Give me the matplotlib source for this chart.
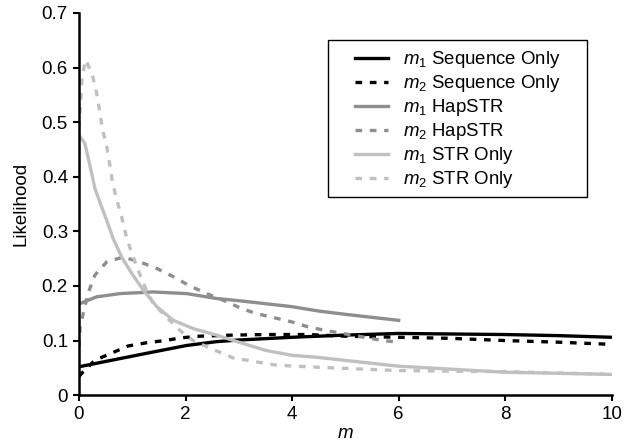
import matplotlib
matplotlib.use('Agg')
import matplotlib.pyplot as plt
from matplotlib.patches import Rectangle

plt.rcParams['font.family'] = ['Liberation Sans', 'DejaVu Sans']
plt.rcParams['mathtext.fontset'] = 'custom'
plt.rcParams['mathtext.rm'] = 'Liberation Sans'
plt.rcParams['mathtext.it'] = 'Liberation Sans:italic'

# values
m_seq1 = [0, 0.77, 1.39, 2.02, 2.58, 3.0, 4.0, 4.5, 5.0, 6.0, 7.0, 8.0, 9.0, 10.0]
seq1 = [0.052, 0.067, 0.079, 0.091, 0.098, 0.101, 0.106, 0.108, 0.110, 0.113, 0.112, 0.111, 0.109, 0.106]

m_seq2 = [0, 0.05, 0.3, 0.61, 0.92, 1.27, 1.61, 1.92, 2.27, 2.9, 3.5, 4.3, 5.0, 6.0, 7.0, 8.0, 9.0, 10.0]
seq2 = [0.034, 0.040, 0.064, 0.077, 0.090, 0.096, 0.100, 0.105, 0.108, 0.110, 0.111, 0.111, 0.108, 0.106, 0.104, 0.100, 0.097, 0.093]

m_hap1 = [0, 0.33, 0.77, 1.39, 2.02, 2.58, 3.0, 4.0, 4.5, 5.0, 6.0]
hap1 = [0.167, 0.180, 0.186, 0.189, 0.186, 0.177, 0.173, 0.162, 0.154, 0.148, 0.137]

m_hap2 = [0, 0.02, 0.17, 0.3, 0.52, 0.83, 1.14, 1.46, 1.77, 2.08, 2.4, 2.7, 3.0, 3.3, 3.7, 4.0, 4.3, 4.6, 5.3, 5.7, 6.0]
hap2 = [0.088, 0.125, 0.187, 0.220, 0.244, 0.253, 0.244, 0.232, 0.217, 0.200, 0.186, 0.174, 0.161, 0.150, 0.141, 0.134, 0.125, 0.119, 0.107, 0.100, 0.097]

m_str1 = [0, 0.11, 0.21, 0.3, 0.42, 0.52, 0.64, 0.8, 0.99, 1.21, 1.46, 1.77, 2.14, 2.58, 3.0, 3.5, 4.0, 4.5, 6.0, 8.0, 10.0]
str1 = [0.476, 0.461, 0.418, 0.378, 0.346, 0.320, 0.287, 0.253, 0.223, 0.192, 0.162, 0.137, 0.122, 0.110, 0.097, 0.082, 0.073, 0.069, 0.053, 0.042, 0.038]

m_str2 = [0, 0.02, 0.04, 0.06, 0.13, 0.26, 0.33, 0.39, 0.44, 0.52, 0.58, 0.63, 0.71, 0.8, 0.89, 0.99, 1.11, 1.24, 1.39, 1.64, 1.89, 2.14, 2.46, 2.9, 3.7, 4.5, 6.0, 8.0, 10.0]
str2 = [0.489, 0.522, 0.553, 0.586, 0.614, 0.583, 0.553, 0.519, 0.487, 0.455, 0.421, 0.389, 0.357, 0.327, 0.290, 0.260, 0.229, 0.198, 0.168, 0.143, 0.119, 0.100, 0.086, 0.068, 0.055, 0.051, 0.045, 0.043, 0.038]

dark = 'black'
mid = '#8e8e8e'
light = '#c0c0c0'
dash = (0, (2, 2.3))

fig = plt.figure(figsize=(6.32, 4.45), dpi=100)
ax = fig.add_axes([0.125, 0.112, 0.843, 0.859])

lw = 2.4
ax.plot(m_seq1, seq1, color=dark, lw=lw, label=r'$m_1$ Sequence Only')
ax.plot(m_seq2, seq2, color=dark, lw=lw, ls=dash, label=r'$m_2$ Sequence Only')
ax.plot(m_hap1, hap1, color=mid, lw=lw, label=r'$m_1$ HapSTR')
ax.plot(m_hap2, hap2, color=mid, lw=lw, ls=dash, label=r'$m_2$ HapSTR')
ax.plot(m_str1, str1, color=light, lw=lw, label=r'$m_1$ STR Only')
ax.plot(m_str2, str2, color=light, lw=lw, ls=dash, label=r'$m_2$ STR Only')

ax.set_xlim(0, 10)
ax.set_ylim(0, 0.7)
ax.set_xticks([0, 2, 4, 6, 8, 10])
ax.set_yticks([0, 0.1, 0.2, 0.3, 0.4, 0.5, 0.6, 0.7])
ax.set_yticklabels(['0', '0.1', '0.2', '0.3', '0.4', '0.5', '0.6', '0.7'])
ax.tick_params(labelsize=13.5, width=1.5, length=4, direction='out', pad=4)
for s in ['top', 'right']:
    ax.spines[s].set_visible(False)
for s in ['left', 'bottom']:
    ax.spines[s].set_linewidth(1.8)

ax.set_xlabel('m', fontsize=13.5, style='italic', labelpad=1)
ax.set_ylabel('Likelihood', fontsize=13.5, labelpad=9)

# legend box drawn by hand so padding can differ left/right
ax.add_patch(Rectangle((0.467, 0.518), 0.486, 0.411, transform=ax.transAxes,
                       fill=True, facecolor='white', edgecolor='black', lw=1.0, zorder=4))
leg = ax.legend(loc='upper left', bbox_to_anchor=(0.518, 0.905), fontsize=13.4,
                frameon=False, handlelength=1.8, labelspacing=0.16,
                borderpad=0, borderaxespad=0, handletextpad=0.8)
leg.set_zorder(5)

fig.savefig('out.png', dpi=100)
